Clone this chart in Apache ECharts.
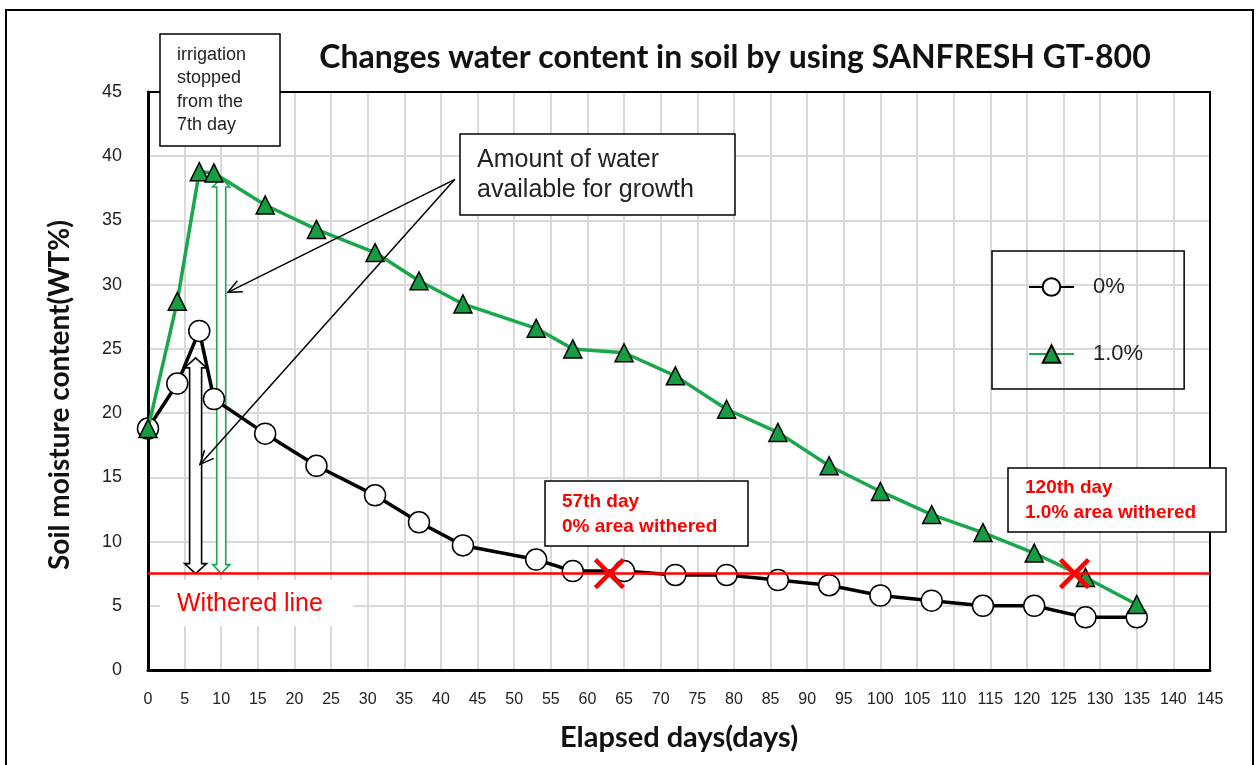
<!DOCTYPE html>
<html><head><meta charset="utf-8">
<script src="https://cdn.jsdelivr.net/npm/echarts@6/dist/echarts.min.js"></script>
<style>html,body{margin:0;padding:0;background:#fff}#c{width:1259px;height:765px}</style>
</head><body><div id="c"></div><script>
// ---- data ----
const days  = [0,4,7,9,16,23,31,37,43,53,58,65,72,79,86,93,100,107,114,121,128,135];
const soil0 = [18.8,22.3,26.4,21.1,18.4,15.9,13.6,11.5,9.7,8.6,7.7,7.7,7.4,7.4,7.0,6.6,5.8,5.4,5.0,5.0,4.1,4.1];
const soil1 = [18.8,28.7,38.8,38.7,36.2,34.3,32.5,30.3,28.5,26.6,25.0,24.7,22.9,20.3,18.5,15.9,13.9,12.1,10.7,9.1,7.2,5.1];
const seriesNames = ['0%','1.0%'];
const witheredLevel = 7.5;
const witherPoints = [[63,7.5],[126.5,7.5]];
const waterArrows = [[6.5,7.5,24.3],[10,7.5,38.3]];   // day, bottom, top
const pointerFrom = [41.9,38.2];
const pointerTo = [[10.9,29.4],[7.1,16.0]];
const xMin = 0, xMax = 145, xStep = 5;
const yMin = 0, yMax = 45, yStep = 5;

const GREEN = '#1aa64b', GREEN_FILL = '#169c43', RED = '#ff0000';
const F = "'Liberation Sans', Arial, sans-serif";
const FB = "Lato, 'Liberation Sans', sans-serif";

const chart = echarts.init(document.getElementById('c'), null, {renderer:'canvas'});

const frameAxis = {min:0, max:1, show:true, axisLine:{show:true, onZero:false, lineStyle:{color:'#000', width:2}},
  axisTick:{show:false}, axisLabel:{show:false}, splitLine:{show:false}};

const option = {
  backgroundColor:'#fff',
  animation:false,
  grid:{left:148, right:49, top:92, bottom:95},
  xAxis:[{type:'value', min:xMin, max:xMax, interval:xStep,
    axisLine:{show:true, onZero:false, lineStyle:{color:'#000', width:3}},
    axisTick:{show:false},
    axisLabel:{fontFamily:F, fontSize:16, color:'#222', margin:22},
    splitLine:{show:true, lineStyle:{color:'#d9d9d9', width:2}},
    name:'Elapsed days(days)', nameLocation:'middle', nameGap:53,
    nameTextStyle:{fontFamily:FB, fontWeight:'bold', fontSize:29, color:'#111'}
  }, Object.assign({type:'value', position:'top'}, frameAxis)],
  yAxis:[{type:'value', min:yMin, max:yMax, interval:yStep,
    axisLine:{show:true, lineStyle:{color:'#000', width:3}},
    axisTick:{show:false},
    axisLabel:{fontFamily:F, fontSize:18, color:'#222', margin:26},
    splitLine:{show:true, lineStyle:{color:'#d9d9d9', width:2}}
  }, Object.assign({type:'value', position:'right'}, frameAxis)],
  legend:{
    data:seriesNames, orient:'vertical', left:992, top:251,
    padding:[25,41,24,36], itemGap:45, itemWidth:45, itemHeight:22,
    borderColor:'#000', borderWidth:1.5, backgroundColor:'transparent',
    textStyle:{fontFamily:F, fontSize:22, color:'#222', padding:[0,0,0,14]}
  },
  series:[
    {type:'custom', name:'arrows', coordinateSystem:'cartesian2d', z:2, silent:true,
      data:waterArrows, encode:{x:0, y:[1,2]},
      renderItem:function(params, api){
        const x = api.value(0);
        const b = api.coord([x, api.value(1)]);
        const t = api.coord([x, api.value(2)]);
        const green = params.dataIndex === 1;
        const sw = green ? 4.5 : 6, hw = green ? 8.5 : 11, hl = green ? 9 : 10;
        const cx = b[0], top = t[1], bot = b[1];
        const pts = [[cx,top],[cx+hw,top+hl],[cx+sw,top+hl],[cx+sw,bot-hl],[cx+hw,bot-hl],[cx,bot],
                     [cx-hw,bot-hl],[cx-sw,bot-hl],[cx-sw,top+hl],[cx-hw,top+hl]];
        return {type:'polygon', shape:{points:pts}, style:{fill:'#fff', stroke: green?GREEN:'#000', lineWidth:1.6}};
      }
    },
    {type:'custom', name:'pointers', coordinateSystem:'cartesian2d', z:6, silent:true,
      data:pointerTo.map(p=>[pointerFrom[0],pointerFrom[1],p[0],p[1]]), encode:{x:[0,2], y:[1,3]},
      renderItem:function(params, api){
        const a = api.coord([api.value(0), api.value(1)]);
        const b = api.coord([api.value(2), api.value(3)]);
        const ang = Math.atan2(b[1]-a[1], b[0]-a[0]);
        const L = 15, s = 0.42;
        const h1 = [b[0]-L*Math.cos(ang-s), b[1]-L*Math.sin(ang-s)];
        const h2 = [b[0]-L*Math.cos(ang+s), b[1]-L*Math.sin(ang+s)];
        return {type:'group', children:[
          {type:'line', shape:{x1:a[0],y1:a[1],x2:b[0],y2:b[1]}, style:{stroke:'#000', lineWidth:1.5}},
          {type:'polyline', shape:{points:[h1,b,h2]}, style:{stroke:'#000', lineWidth:1.5, fill:null}}
        ]};
      }
    },
    {type:'line', name:seriesNames[0], z:3,
      data:days.map((d,i)=>[d,soil0[i]]),
      symbol:'circle', symbolSize:21,
      lineStyle:{color:'#000', width:3.5},
      itemStyle:{color:'#fff', borderColor:'#000', borderWidth:1.5},
      markLine:{silent:true, symbol:'none', label:{show:false},
        lineStyle:{color:RED, width:2.5, type:'solid'},
        data:[{yAxis:witheredLevel}]}
    },
    {type:'line', name:seriesNames[1], z:4,
      data:days.map((d,i)=>[d,soil1[i]]),
      symbol:'triangle', symbolSize:18,
      lineStyle:{color:GREEN, width:3.5},
      itemStyle:{color:GREEN_FILL, borderColor:'#000', borderWidth:1.5}
    },
    {type:'custom', name:'withered', coordinateSystem:'cartesian2d', z:7, silent:true,
      data:witherPoints, encode:{x:0, y:1},
      renderItem:function(params, api){
        const c = api.coord([api.value(0), api.value(1)]);
        const r = 14;
        return {type:'group', children:[
          {type:'line', shape:{x1:c[0]-r,y1:c[1]-r,x2:c[0]+r,y2:c[1]+r}, style:{stroke:RED, lineWidth:4.5}},
          {type:'line', shape:{x1:c[0]-r,y1:c[1]+r,x2:c[0]+r,y2:c[1]-r}, style:{stroke:RED, lineWidth:4.5}}
        ]};
      }
    }
  ],
  graphic:[
    {type:'rect', shape:{x:6, y:10, width:1247, height:780}, style:{fill:null, stroke:'#000', lineWidth:2}, z:0, silent:true},
    {type:'text', x:735, y:58, style:{text:'Changes water content in soil by using SANFRESH GT-800', fontFamily:FB, fontWeight:'bold', fontSize:32, fill:'#111', align:'center', verticalAlign:'middle'}, z:10},
    {type:'text', x:60, y:395, rotation:Math.PI/2, style:{text:'Soil moisture content(WT%)', fontFamily:FB, fontWeight:'bold', fontSize:28, fill:'#111', align:'center', verticalAlign:'middle'}, z:10},
    // irrigation box
    {type:'rect', shape:{x:160, y:34, width:120, height:112}, style:{fill:'#fff', stroke:'#000', lineWidth:1.5}, z:10},
    {type:'text', x:177, y:43, style:{text:'irrigation\nstopped\nfrom the\n7th day', fontFamily:F, fontSize:18, lineHeight:23.5, fill:'#222', align:'left', verticalAlign:'top'}, z:11},
    // amount box
    {type:'rect', shape:{x:460, y:134, width:275, height:81}, style:{fill:'#fff', stroke:'#000', lineWidth:1.5}, z:10},
    {type:'text', x:477, y:145, style:{text:'Amount of water\navailable for growth', fontFamily:F, fontSize:25, lineHeight:30, fill:'#222', align:'left', verticalAlign:'top'}, z:11},
    // 57th box
    {type:'rect', shape:{x:545, y:481, width:203, height:65}, style:{fill:'#fff', stroke:'#000', lineWidth:1.5}, z:10},
    {type:'text', x:562, y:489, style:{text:'57th day\n0% area withered', fontFamily:F, fontWeight:'bold', fontSize:19, lineHeight:25, fill:RED, align:'left', verticalAlign:'top'}, z:11},
    // 120th box
    {type:'rect', shape:{x:1008, y:468, width:218, height:64}, style:{fill:'#fff', stroke:'#000', lineWidth:1.5}, z:10},
    {type:'text', x:1025, y:475, style:{text:'120th day\n1.0% area withered', fontFamily:F, fontWeight:'bold', fontSize:19, lineHeight:25, fill:RED, align:'left', verticalAlign:'top'}, z:11},
    // withered line label
    {type:'rect', shape:{x:160, y:580, width:193, height:46}, style:{fill:'#fff'}, z:1},
    {type:'text', x:177, y:604, style:{text:'Withered line', fontFamily:F, fontSize:25, fill:RED, align:'left', verticalAlign:'middle'}, z:11}
  ]
};
chart.setOption(option);
</script></body></html>
